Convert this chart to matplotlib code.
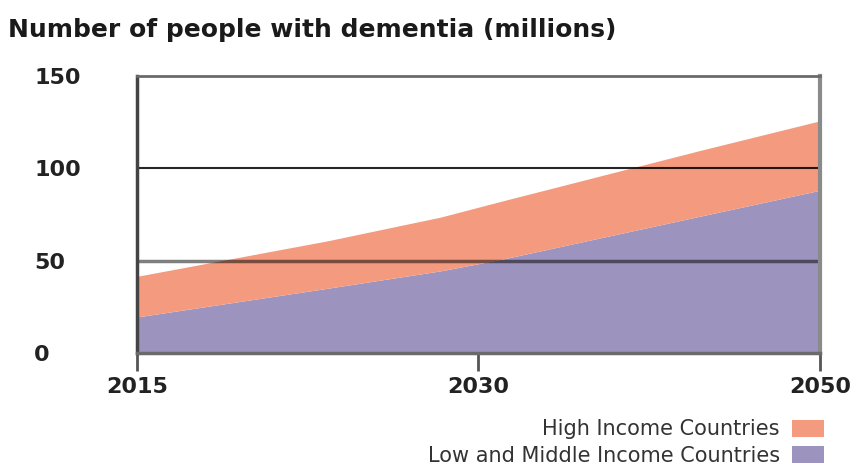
import numpy as np
import matplotlib.pyplot as plt

# posiciones en el eje (0 = 2015, 1 = 2030, 2 = 2050) y valores en millones
x_pos = [0, 0.56, 0.89, 1.07, 1.65, 2.0]
low_middle = [19.2, 34.8, 44.2, 50.5, 73.8, 87.8]
high = [22.0, 25.7, 29.1, 31.5, 35.6, 37.6]

tick_pos = [0, 1, 2]
tick_labels = ["2015", "2030", "2050"]
y_ticks = [0, 50, 100, 150]

series_names = ["Low and Middle Income Countries", "High Income Countries"]
col_low = "#9d93bf"
col_high = "#f39a7f"

fig = plt.figure(figsize=(8.62, 4.65), dpi=100)
ax = fig.add_axes([137 / 862, 1 - 353 / 465, 683 / 862, 277 / 465])

polys = ax.stackplot(x_pos, low_middle, high, colors=[col_low, col_high],
                     labels=series_names, linewidth=0)

ax.set_xlim(0, 2)
ax.set_ylim(0, 150)

# lineas horizontales
ax.axhline(100, color="black", lw=1.5, alpha=0.85, zorder=3)
ax.axhline(50, color="black", lw=2.5, alpha=0.5, zorder=3)

for side in ["top", "bottom", "left", "right"]:
    ax.spines[side].set_zorder(4)
ax.spines["top"].set_color("#6a6a6a")
ax.spines["top"].set_linewidth(2)
ax.spines["bottom"].set_color("#6a6a6a")
ax.spines["bottom"].set_linewidth(2.5)
ax.spines["left"].set_color("#444444")
ax.spines["left"].set_linewidth(2.5)
ax.spines["right"].set_color("#8a8a8a")
ax.spines["right"].set_linewidth(3)

ax.set_xticks(tick_pos)
ax.set_xticklabels(tick_labels, fontsize=16, fontweight="bold", color="#222222")
ax.tick_params(axis="x", direction="out", length=13, width=2, color="#555555", pad=4)

ax.set_yticks(y_ticks)
ax.set_yticklabels([str(v) for v in y_ticks], fontsize=16, fontweight="bold",
                   color="#222222", ha="left")
ax.tick_params(axis="y", length=0, pad=74)

fig.text(8 / 862, 1 - 30 / 465, "Number of people with dementia (millions)",
         fontsize=18, fontweight="bold", color="#1a1a1a", va="center", ha="left")

handles = [polys[1], polys[0]]
labels = [series_names[1], series_names[0]]
fig.legend(handles, labels, loc="upper right",
           bbox_to_anchor=(834 / 862, 1 - 409 / 465), frameon=False,
           markerfirst=False, fontsize=15, labelspacing=0.3,
           handlelength=1.5, handleheight=0.9, handletextpad=0.6,
           borderpad=0, labelcolor="#333333")

fig.savefig("out.png", dpi=100)
